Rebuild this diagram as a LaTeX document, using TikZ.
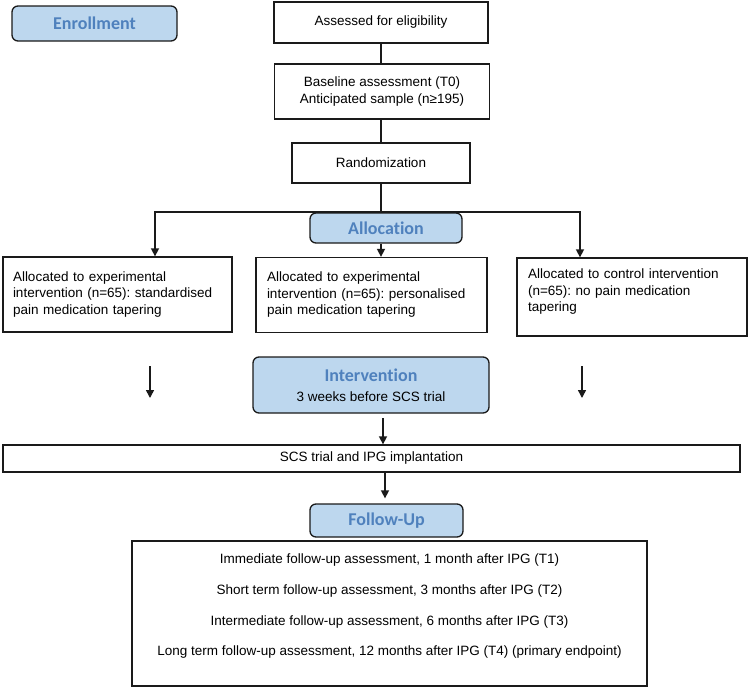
\documentclass[tikz,border=0pt]{standalone}
\usepackage{fontspec}
\setmainfont{Liberation Sans}
\newfontfamily\titlefont[Ligatures={NoCommon,NoContextual,NoDiscretionary}]{Carlito}
\usetikzlibrary{arrows.meta,calc}
\definecolor{phasefill}{HTML}{BDD7EE}
\definecolor{phasetext}{HTML}{4F81BD}
\definecolor{edge}{HTML}{1A1A1A}
\frenchspacing
\begin{document}
\frenchspacing
\begin{tikzpicture}[x=1pt,y=-1pt,
  body/.style={font=\frenchspacing\fontsize{13.5}{16.5}\selectfont},
  box/.style={draw=edge, line width=1.3pt, fill=white, body, inner sep=0pt},
  phase/.style={draw=edge, line width=1.3pt, fill=phasefill, rounded corners=6pt,
    text=phasetext, font=\titlefont\bfseries\fontsize{18}{22}\selectfont, inner sep=0pt},
  armbox/.style={box, align=left, text width=209pt, inner xsep=10pt, minimum height=75pt},
  conn/.style={draw=edge, line width=1.5pt},
  arr/.style={conn, -{Triangle[width=8pt,length=8pt]}}
]
\useasboundingbox (0,0) rectangle (750,691);

% Enrollment
\node[phase, minimum width=165pt, minimum height=35pt] (enroll) at (94.5,23.5) {Enrollment};
\node[box, minimum width=214pt, minimum height=41pt] (assess) at (381,22.5) {Assessed for eligibility};
\node[box, minimum width=215pt, minimum height=55pt, align=center] (base) at (382,91.5)
  {Baseline assessment (T0)\\Anticipated sample (n≥195)};
\node[box, minimum width=178pt, minimum height=40pt] (rand) at (381,163) {Randomization};

\draw[conn] (assess.south) -- (assess.south |- base.north);
\draw[conn] (rand.south |- base.south) -- (rand.north);

% Allocation arms
\node[armbox] (a1) at (117.5,294.5) {Allocated to experimental\\intervention (n=65): standardised\\pain medication tapering};
\node[armbox, text width=209pt, inner xsep=11pt] (a2) at (371.5,295) {Allocated to experimental\\intervention (n=65): personalised\\pain medication tapering};
\node[armbox, text width=208pt, inner xsep=11pt, minimum height=78pt] (a3) at (632,297) {Allocated to control intervention\\(n=65): no pain medication\\tapering\\[-3pt]\mbox{}};

\coordinate (split) at (381,212);
\coordinate (L) at (155,212);
\coordinate (R) at (580,212);
\draw[conn] (rand.south) -- (split);
\draw[arr] (split) -- (L) -- (L |- a1.north);
\draw[arr] (split) -- (R) -- (R |- a3.north);

\node[phase, minimum width=152pt, minimum height=30pt] (alloc) at (386,228) {Allocation};
\draw[arr] (split |- alloc.south) -- (split |- a2.north);

% Intervention
\coordinate (s1a) at (150,366); \coordinate (s1b) at (150,398);
\coordinate (s3a) at (582,366); \coordinate (s3b) at (582,398);
\draw[arr] (s1a) -- (s1b);
\draw[arr] (s3a) -- (s3b);

\node[phase, minimum width=236pt, minimum height=56pt, align=center] (interv) at (371,385)
  {Intervention\\[-2pt]{\normalfont\fontsize{13.5}{16.5}\selectfont\color{black}3 weeks before SCS trial}};

\node[box, minimum width=737pt, minimum height=27pt] (scs) at (371.5,458.5) {SCS trial and IPG implantation};
\coordinate (iv) at (383,413);
\draw[arr, shorten <=5pt] (iv) -- (iv |- scs.north);

% Follow-up
\node[phase, minimum width=153pt, minimum height=33pt] (fu) at (386.5,520.5) {Follow-Up};
\coordinate (fs) at (385,472);
\draw[arr, shorten >=5pt] (fs) -- (fs |- fu.north);

\node[box, minimum width=515pt, minimum height=145pt] (fubox) at (389.5,613.5) {};
\node[body, align=center, font=\fontsize{13.5}{30.7}\selectfont, anchor=north] (futext) at ($(fubox.north)+(0,10)$)
  {Immediate follow-up assessment, 1 month after IPG (T1)\\
   Short term follow-up assessment, 3 months after IPG (T2)\\
   Intermediate follow-up assessment, 6 months after IPG (T3)\\
   Long term follow-up assessment, 12 months after IPG (T4) (primary endpoint)};
\end{tikzpicture}
\end{document}
